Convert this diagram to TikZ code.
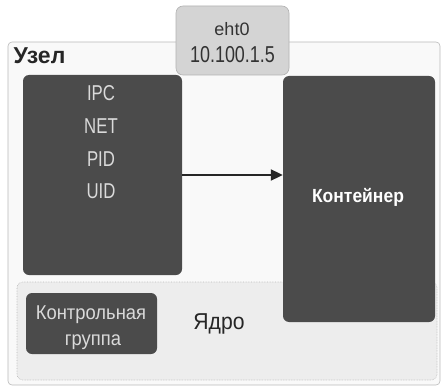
\documentclass[tikz,border=0pt]{standalone}
\usepackage{fontspec}
\setmainfont{Liberation Sans}
\newfontfamily\narrowfont[FakeStretch=0.78]{Liberation Sans}
\newfontfamily\semifont[FakeStretch=0.92]{Liberation Sans}
\usetikzlibrary{arrows.meta}
\definecolor{darkbox}{HTML}{4B4B4B}
\definecolor{lighttext}{HTML}{DADADA}
\definecolor{ethfill}{HTML}{D4D4D4}
\definecolor{kernfill}{HTML}{EDEDED}
\definecolor{outerfill}{HTML}{F9F9F9}
\tikzset{
  darkstyle/.style={draw=none, fill=darkbox, rounded corners=6pt, inner sep=0pt},
  lbl/.style={inner sep=0pt, anchor=base},
  idtext/.style={lbl, text=lighttext, font=\narrowfont\fontsize{21.5}{25}\selectfont},
}
\begin{document}
\begin{tikzpicture}[x=1pt,y=-1pt]
\useasboundingbox (0,0) rectangle (443,387);
% outer node
\node[draw=gray!55, fill=outerfill, rounded corners=4pt, minimum width=432pt, minimum height=343pt, inner sep=0pt, line width=0.6pt] (outer) at (224,213.5) {};
% kernel
\node[draw=gray!55, densely dotted, fill=kernfill, rounded corners=6pt, minimum width=420pt, minimum height=98pt, inner sep=0pt, line width=0.6pt] (kernel) at (227,331) {};
% eth0
\node[draw=gray!60, fill=ethfill, rounded corners=7pt, minimum width=113pt, minimum height=69pt, inner sep=0pt, line width=0.6pt] (eth) at (232.5,40.5) {};
% dark boxes
\node[darkstyle, minimum width=159pt, minimum height=200pt] (ns) at (102.5,175) {};
\node[darkstyle, minimum width=152pt, minimum height=246pt] (cont) at (359,199) {};
\node[darkstyle, minimum width=131pt, minimum height=61pt] (cg) at (91.5,323.5) {};
% arrow
\draw[line width=2pt, color=black!85, -{Triangle[length=12pt,width=11pt]}] (ns.east) -- (ns.east -| cont.west);
% texts
\node[lbl, font=\bfseries\fontsize{23}{27}\selectfont, text=black!85] (uzel) at (39.5,64) {Узел};
\node[lbl, font=\fontsize{18}{21}\selectfont, text=black!80] (ethname) at (232,36) {eht0};
\node[lbl, font=\narrowfont\fontsize{23}{27}\selectfont, text=black!80] (ethip) at (232.5,62.5) {10.100.1.5};
\node[idtext] (ipc) at (101,101) {IPC};
\node[idtext] (net) at (101,134) {NET};
\node[idtext] (pid) at (101,166) {PID};
\node[idtext] (uid) at (101,198) {UID};
\node[lbl, text=white, font=\semifont\bfseries\fontsize{19}{23}\selectfont] (conttext) at (358,202) {Контейнер};
\node[lbl, text=black!85, font=\semifont\fontsize{23}{27}\selectfont] (core) at (219,329.5) {Ядро};
\node[lbl, text=lighttext, font=\semifont\fontsize{20}{24}\selectfont] (cg1) at (91,319) {Контрольная};
\node[lbl, text=lighttext, font=\semifont\fontsize{20}{24}\selectfont] (cg2) at (93,345) {группа};
\end{tikzpicture}
\end{document}
